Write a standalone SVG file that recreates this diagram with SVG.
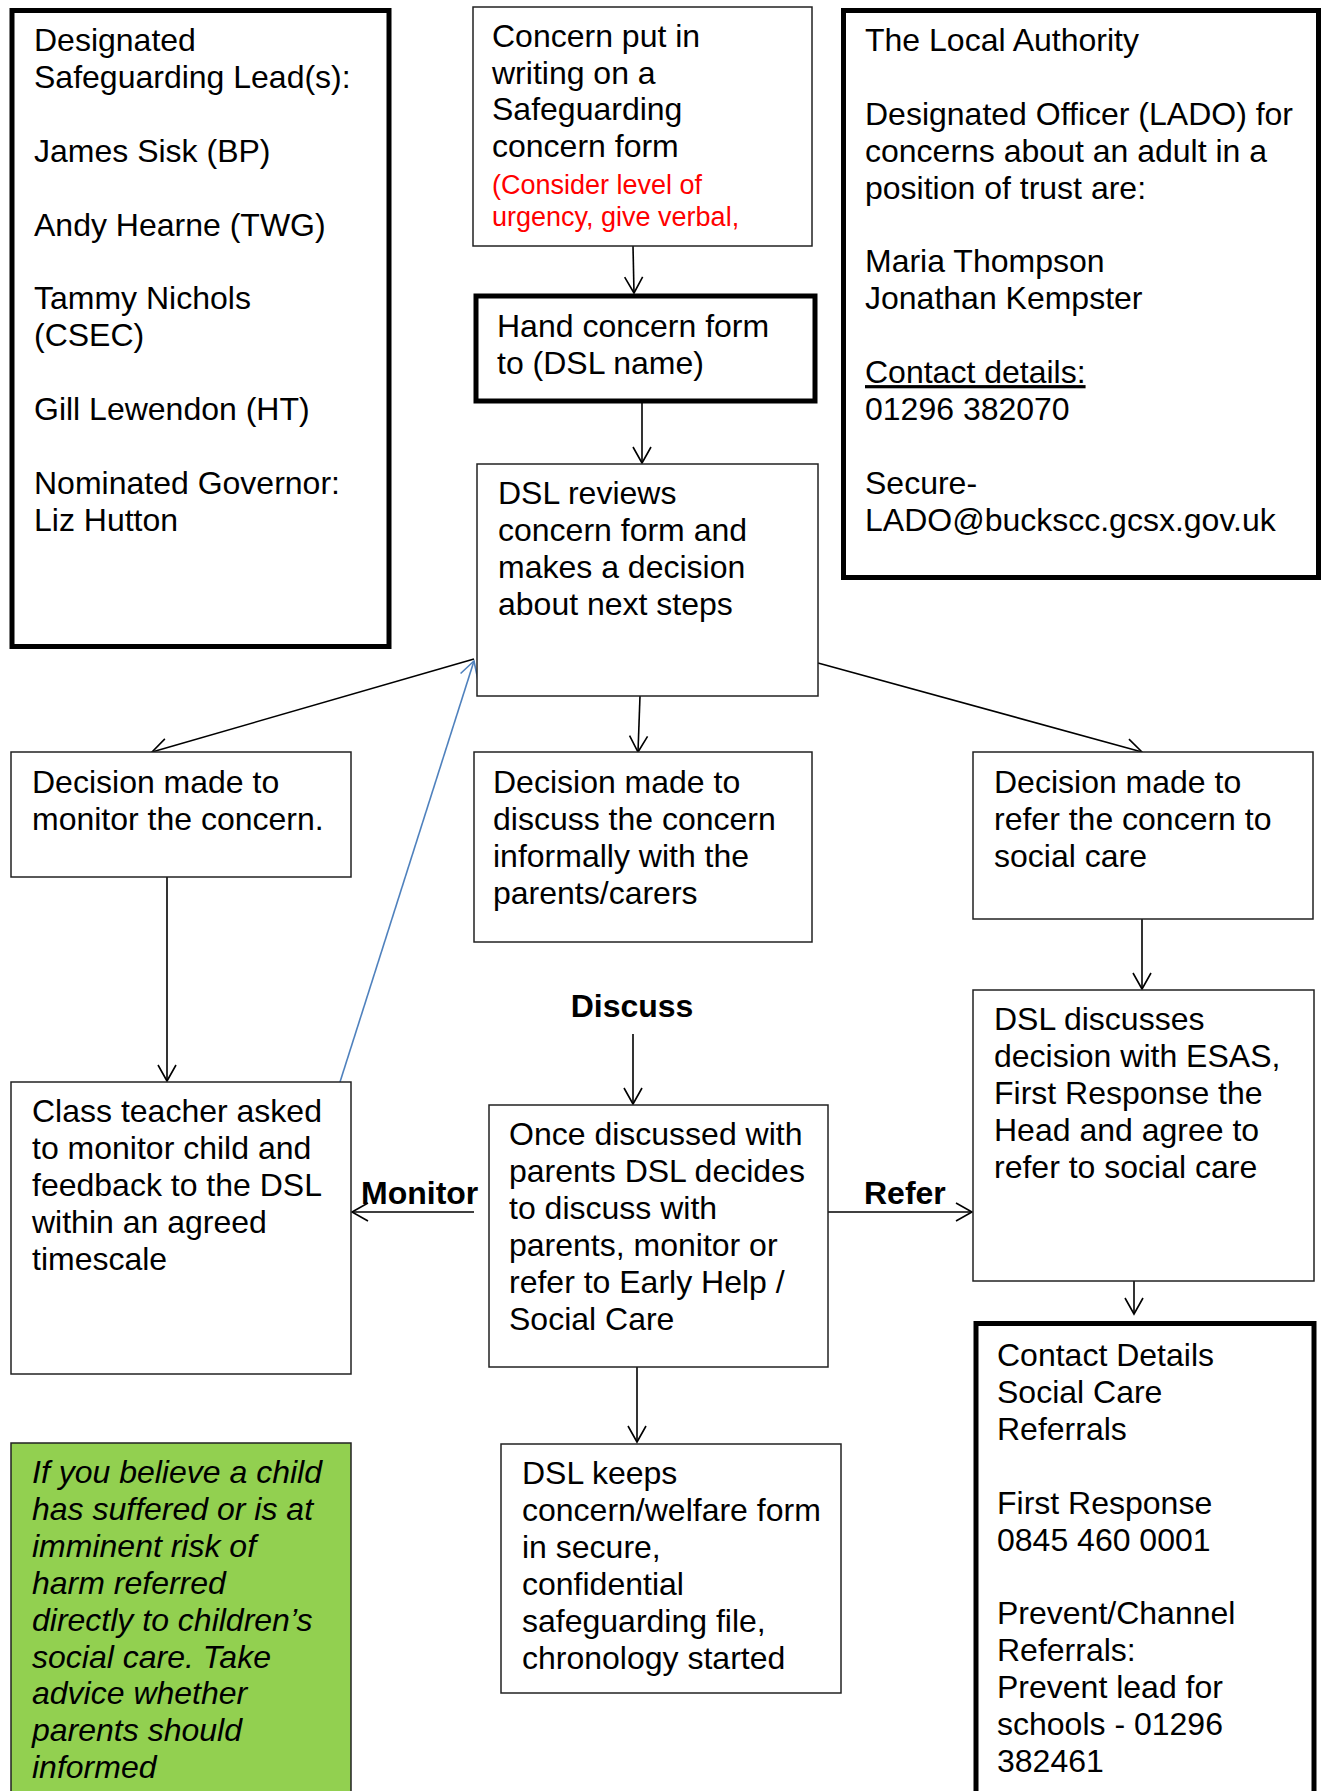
<svg xmlns="http://www.w3.org/2000/svg" width="1324" height="1791" viewBox="0 0 1324 1791">
<style>
text{font-family:"Liberation Sans",Arial,sans-serif;font-size:32px;fill:#000}
.thin{fill:#fff;stroke:#222;stroke-width:1.5}
.thick{fill:#fff;stroke:#000;stroke-width:5}
.red{fill:#f00;font-size:27px}
.bold{font-weight:bold}
.it{font-style:italic}
.con{fill:none;stroke:#000;stroke-width:1.6}
.blue{fill:none;stroke:#4f81bd;stroke-width:1.6}
</style>
<defs>
<marker id="ah" markerUnits="userSpaceOnUse" viewBox="-18 -11 20 22" refX="0" refY="0" markerWidth="20" markerHeight="22" orient="auto">
<path d="M-16,-9 L0,0 L-16,9" fill="none" stroke="#000" stroke-width="1.6"/>
</marker>
<marker id="ahb" markerUnits="userSpaceOnUse" viewBox="-18 -11 20 22" refX="0" refY="0" markerWidth="20" markerHeight="22" orient="auto">
<path d="M-16,-9 L0,0 L-16,9" fill="none" stroke="#4f81bd" stroke-width="1.6"/>
</marker>
</defs>
<rect width="1324" height="1791" fill="#fff"/>

<g id="connectors">
<line class="con" x1="633" y1="246" x2="634" y2="293" marker-end="url(#ah)"/>
<line class="con" x1="642" y1="403" x2="642" y2="463" marker-end="url(#ah)"/>
<line class="con" x1="474" y1="659" x2="152" y2="752" marker-end="url(#ah)"/>
<line class="con" x1="640" y1="696" x2="638" y2="752" marker-end="url(#ah)"/>
<line class="con" x1="818" y1="663" x2="1142" y2="752" marker-end="url(#ah)"/>
<line class="blue" x1="340" y1="1082" x2="474" y2="661" marker-end="url(#ahb)"/>
<line class="con" x1="167" y1="877" x2="167" y2="1081" marker-end="url(#ah)"/>
<line class="con" x1="1142" y1="919" x2="1142" y2="989" marker-end="url(#ah)"/>
<line class="con" x1="633" y1="1034" x2="633" y2="1104" marker-end="url(#ah)"/>
<line class="con" x1="474" y1="1212" x2="352" y2="1212" marker-end="url(#ah)"/>
<line class="con" x1="828" y1="1212" x2="972" y2="1212" marker-end="url(#ah)"/>
<line class="con" x1="1134" y1="1281" x2="1134" y2="1314" marker-end="url(#ah)"/>
<line class="con" x1="637" y1="1367" x2="637" y2="1442" marker-end="url(#ah)"/>
<text class="bold" x="632" y="1017" text-anchor="middle">Discuss</text>
<text class="bold" x="361" y="1204">Monitor</text>
<text class="bold" x="864" y="1204">Refer</text>
</g>

<g id="dsl-leads">
<rect class="thick" x="12" y="10.5" width="377" height="636"/>
<text x="34" y="51">
<tspan x="34">Designated</tspan>
<tspan x="34" dy="36.9">Safeguarding Lead(s):</tspan>
<tspan x="34" dy="73.8">James Sisk (BP)</tspan>
<tspan x="34" dy="73.8">Andy Hearne (TWG)</tspan>
<tspan x="34" dy="73.8">Tammy Nichols</tspan>
<tspan x="34" dy="36.9">(CSEC)</tspan>
<tspan x="34" dy="73.8">Gill Lewendon (HT)</tspan>
<tspan x="34" dy="73.8">Nominated Governor:</tspan>
<tspan x="34" dy="36.9">Liz Hutton</tspan>
</text>
</g>

<g id="concern-writing">
<rect class="thin" x="473" y="7" width="339" height="239"/>
<text x="492" y="47">
<tspan x="492">Concern put in</tspan>
<tspan x="492" dy="36.6">writing on a</tspan>
<tspan x="492" dy="36.6">Safeguarding</tspan>
<tspan x="492" dy="36.6">concern form</tspan>
</text>
<text class="red" x="492" y="194">
<tspan x="492">(Consider level of</tspan>
<tspan x="492" dy="32">urgency, give verbal,</tspan>
</text>
</g>

<g id="hand-concern">
<rect class="thick" x="476" y="296" width="339" height="105"/>
<text x="497" y="337">
<tspan x="497">Hand concern form</tspan>
<tspan x="497" dy="36.9">to (DSL name)</tspan>
</text>
</g>

<g id="local-authority">
<rect class="thick" x="843.5" y="10.5" width="475" height="567"/>
<text x="865" y="51">
<tspan x="865">The Local Authority</tspan>
<tspan x="865" dy="73.8">Designated Officer (LADO) for</tspan>
<tspan x="865" dy="36.9">concerns about an adult in a</tspan>
<tspan x="865" dy="36.9">position of trust are:</tspan>
<tspan x="865" dy="73.8">Maria Thompson</tspan>
<tspan x="865" dy="36.9">Jonathan Kempster</tspan>
<tspan x="865" dy="73.8" text-decoration="underline">Contact details:</tspan>
<tspan x="865" dy="36.9">01296 382070</tspan>
<tspan x="865" dy="73.8">Secure-</tspan>
<tspan x="865" dy="36.9">LADO@buckscc.gcsx.gov.uk</tspan>
</text>
</g>

<g id="dsl-reviews">
<rect class="thin" x="477" y="464" width="341" height="232"/>
<text x="498" y="504">
<tspan x="498">DSL reviews</tspan>
<tspan x="498" dy="36.9">concern form and</tspan>
<tspan x="498" dy="36.9">makes a decision</tspan>
<tspan x="498" dy="36.9">about next steps</tspan>
</text>
</g>

<g id="decision-monitor">
<rect class="thin" x="11" y="752" width="340" height="125"/>
<text x="32" y="793">
<tspan x="32">Decision made to</tspan>
<tspan x="32" dy="36.9">monitor the concern.</tspan>
</text>
</g>

<g id="decision-discuss">
<rect class="thin" x="474" y="752" width="338" height="190"/>
<text x="493" y="793">
<tspan x="493">Decision made to</tspan>
<tspan x="493" dy="36.9">discuss the concern</tspan>
<tspan x="493" dy="36.9">informally with the</tspan>
<tspan x="493" dy="36.9">parents/carers</tspan>
</text>
</g>

<g id="decision-refer">
<rect class="thin" x="973" y="752" width="340" height="167"/>
<text x="994" y="793">
<tspan x="994">Decision made to</tspan>
<tspan x="994" dy="36.9">refer the concern to</tspan>
<tspan x="994" dy="36.9">social care</tspan>
</text>
</g>

<g id="class-teacher">
<rect class="thin" x="11" y="1082" width="340" height="292"/>
<text x="32" y="1122">
<tspan x="32">Class teacher asked</tspan>
<tspan x="32" dy="36.9">to monitor child and</tspan>
<tspan x="32" dy="36.9">feedback to the DSL</tspan>
<tspan x="32" dy="36.9">within an agreed</tspan>
<tspan x="32" dy="36.9">timescale</tspan>
</text>
</g>

<g id="dsl-discusses">
<rect class="thin" x="973" y="990" width="341" height="291"/>
<text x="994" y="1030">
<tspan x="994">DSL discusses</tspan>
<tspan x="994" dy="36.9">decision with ESAS,</tspan>
<tspan x="994" dy="36.9">First Response the</tspan>
<tspan x="994" dy="36.9">Head and agree to</tspan>
<tspan x="994" dy="36.9">refer to social care</tspan>
</text>
</g>

<g id="once-discussed">
<rect class="thin" x="489" y="1105" width="339" height="262"/>
<text x="509" y="1145">
<tspan x="509">Once discussed with</tspan>
<tspan x="509" dy="36.9">parents DSL decides</tspan>
<tspan x="509" dy="36.9">to discuss with</tspan>
<tspan x="509" dy="36.9">parents, monitor or</tspan>
<tspan x="509" dy="36.9">refer to Early Help /</tspan>
<tspan x="509" dy="36.9">Social Care</tspan>
</text>
</g>

<g id="contact-details">
<rect class="thick" x="976" y="1323.5" width="338" height="500"/>
<text x="997" y="1366">
<tspan x="997">Contact Details</tspan>
<tspan x="997" dy="36.9">Social Care</tspan>
<tspan x="997" dy="36.9">Referrals</tspan>
<tspan x="997" dy="73.8">First Response</tspan>
<tspan x="997" dy="36.9">0845 460 0001</tspan>
<tspan x="997" dy="73.8">Prevent/Channel</tspan>
<tspan x="997" dy="36.9">Referrals:</tspan>
<tspan x="997" dy="36.9">Prevent lead for</tspan>
<tspan x="997" dy="36.9">schools - 01296</tspan>
<tspan x="997" dy="36.9">382461</tspan>
</text>
</g>

<g id="dsl-keeps">
<rect class="thin" x="501" y="1444" width="340" height="249"/>
<text x="522" y="1484">
<tspan x="522">DSL keeps</tspan>
<tspan x="522" dy="36.9">concern/welfare form</tspan>
<tspan x="522" dy="36.9">in secure,</tspan>
<tspan x="522" dy="36.9">confidential</tspan>
<tspan x="522" dy="36.9">safeguarding file,</tspan>
<tspan x="522" dy="36.9">chronology started</tspan>
</text>
</g>

<g id="urgent-note">
<rect x="11" y="1443" width="340" height="400" fill="#92d050" stroke="#222" stroke-width="1.5"/>
<text class="it" x="32" y="1483">
<tspan x="32">If you believe a child</tspan>
<tspan x="32" dy="36.9">has suffered or is at</tspan>
<tspan x="32" dy="36.9">imminent risk of</tspan>
<tspan x="32" dy="36.9">harm referred</tspan>
<tspan x="32" dy="36.9">directly to children’s</tspan>
<tspan x="32" dy="36.9">social care. Take</tspan>
<tspan x="32" dy="36.9">advice whether</tspan>
<tspan x="32" dy="36.9">parents should</tspan>
<tspan x="32" dy="36.9">informed</tspan>
</text>
</g>
</svg>
